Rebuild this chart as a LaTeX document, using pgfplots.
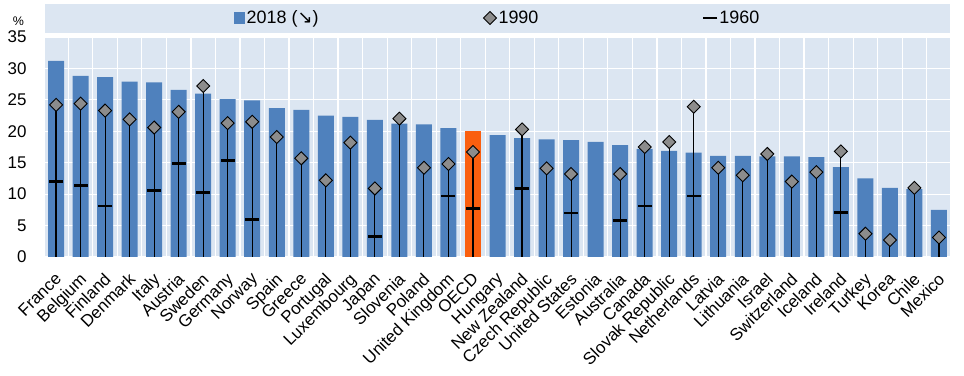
\documentclass[border=0pt]{standalone}
\usepackage{pgfplots}
\pgfplotsset{compat=1.18}
\usepackage{pgfplotstable}
\usepackage{fontspec}
\setmainfont{Liberation Sans}
\newfontfamily\dejavu{DejaVu Sans}
\definecolor{oecdblue}{RGB}{79,129,189}
\definecolor{oecdbg}{RGB}{220,230,242}
\definecolor{oecdorange}{RGB}{250,95,15}
\definecolor{dgray}{RGB}{140,140,140}

% 2018 values (index, value); OECD (17) drawn separately
\pgfplotstableread{
x y
0 31.2
1 28.8
2 28.6
3 27.9
4 27.8
5 26.6
6 26.0
7 25.1
8 24.9
9 23.7
10 23.4
11 22.5
12 22.3
13 21.8
14 21.2
15 21.1
16 20.5
18 19.4
19 18.9
20 18.7
21 18.6
22 18.3
23 17.8
24 17.2
25 16.9
26 16.6
27 16.1
28 16.1
29 16.0
30 16.0
31 15.9
32 14.3
33 12.5
34 11.0
35 10.8
36 7.5
}\tabbars

\pgfplotstableread{
x y
17 20.0
}\taboecd

\pgfplotstableread{
x y
0 24.2
1 24.4
2 23.3
3 21.9
4 20.6
5 23.1
6 27.2
7 21.3
8 21.5
9 19.1
10 15.7
11 12.2
12 18.2
13 10.9
14 22.0
15 14.2
16 14.8
17 16.7
19 20.3
20 14.1
21 13.2
23 13.2
24 17.5
25 18.3
26 23.9
27 14.2
28 13.0
29 16.4
30 12.0
31 13.5
32 16.8
33 3.7
34 2.7
35 11.0
36 3.1
}\tabnineteenninety

\pgfplotstableread{
x y
0 12.0
1 11.4
2 8.1
4 10.6
5 14.9
6 10.3
7 15.4
8 6.0
13 3.3
16 9.7
17 7.7
19 10.9
21 7.0
23 5.8
24 8.1
26 9.7
32 7.1
}\tabnineteensixty

\begin{document}
\begin{tikzpicture}
\fill[oecdbg] (45bp,343bp) rectangle (950bp,372bp);
\node[font=\fontsize{12.5}{12.5}\selectfont] at (18.5bp,355bp) {\%};
\begin{axis}[
  at={(45bp,119bp)}, anchor=south west,
  scale only axis, width=905bp, height=220bp,
  xmin=-0.45, xmax=36.45, ymin=0, ymax=35,
  axis background/.style={fill=oecdbg},
  axis line style={draw=none},
  ytick={0,5,...,35},
  xtick={0,...,36},
  xticklabels={France,Belgium,Finland,Denmark,Italy,Austria,Sweden,Germany,Norway,Spain,Greece,Portugal,Luxembourg,Japan,Slovenia,Poland,United Kingdom,OECD,Hungary,New Zealand,Czech Republic,United States,Estonia,Australia,Canada,Slovak Republic,Netherlands,Latvia,Lithuania,Israel,Switzerland,Iceland,Ireland,Turkey,Korea,Chile,Mexico},
  minor xtick={-0.5,0.5,...,36.5},
  ymajorgrids, xminorgrids,
  major grid style={white, line width=1.2bp},
  minor grid style={white, line width=1.2bp},
  major tick length=0pt, minor tick length=0pt,
  tick label style={font=\fontsize{17}{17}\selectfont},
  /pgf/number format/assume math mode=true,
  yticklabel style={xshift=-15bp},
  xticklabel style={xshift=-2bp, yshift=-13bp, rotate=45, anchor=north east, inner sep=1bp},
  legend style={at={(0.5,1)}, anchor=center, yshift=19bp, draw=none, fill=none,
    font=\fontsize{18}{18}\selectfont, legend columns=3,
    /tikz/every even column/.append style={column sep=163bp}},
  legend cell align=left,
]
\addplot[ybar, bar shift=0pt, bar width=16bp, fill=oecdblue, draw=none,
  legend image code/.code={\fill[oecdblue] (0bp,-5.5bp) rectangle (11bp,5.5bp);}]
  table[x=x,y=y] {\tabbars};
\addlegendentry{2018 ({\dejavu ↘})}
\addplot[ybar, bar shift=0pt, bar width=16bp, fill=oecdorange, draw=none, forget plot]
  table[x=x,y=y] {\taboecd};
\addplot[ycomb, black, line width=1.1bp, mark=none, forget plot]
  table[x=x,y=y] {\tabnineteenninety};
\addplot[only marks, mark=square*, mark size=4.6bp,
  mark options={rotate=45, fill=dgray, draw=black, line width=0.9bp}]
  table[x=x,y=y] {\tabnineteenninety};
\addlegendentry{1990}
\addplot[only marks, mark=-, mark size=7bp, mark options={black, line width=2.8bp}]
  table[x=x,y=y] {\tabnineteensixty};
\addlegendentry{1960}
\end{axis}
\pgfresetboundingbox
\useasboundingbox (0bp,0bp) rectangle (964bp,376bp);
\end{tikzpicture}
\end{document}
